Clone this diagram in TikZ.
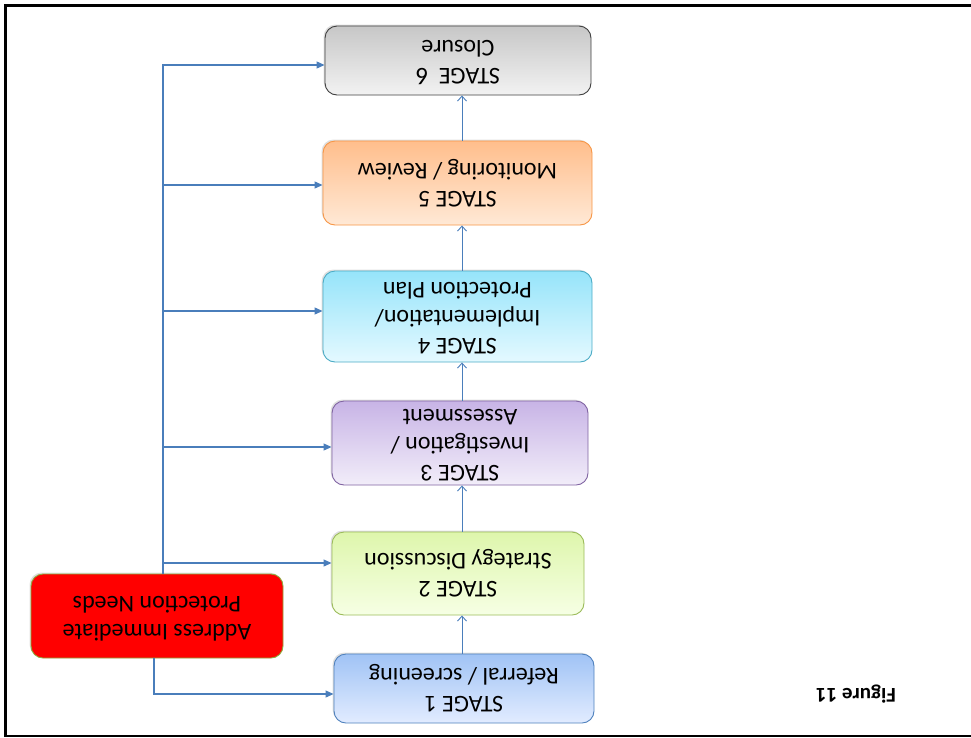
\documentclass[tikz,border=0pt]{standalone}
\usepackage{fontspec}
\setmainfont{Carlito}
\usepackage{xcolor}
\usepackage{tikz}
\usetikzlibrary{arrows.meta, shadows}

\definecolor{linkblue}{RGB}{74,126,187}
\definecolor{alarmred}{RGB}{255,0,0}
\definecolor{alarmedge}{RGB}{140,170,60}

% text set upside down, one row per line
\newcommand{\flip}[1]{\rotatebox[origin=c]{180}{\begin{tabular}{@{}c@{}}#1\end{tabular}}}

\begin{document}
\begin{tikzpicture}[x=1pt, y=-1pt,
        base/.style={
            draw, rounded corners=12pt, inner sep=0pt, line width=0.9pt,
            font=\fontsize{24}{28}\selectfont,
            drop shadow={shadow xshift=-1.5pt, shadow yshift=1.5pt, opacity=0.25}
        },
        grey/.style={base, draw=black!75, top color=black!22, bottom color=black!5},
        orange/.style={base, draw={rgb,255:red,247;green,150;blue,70},
            top color={rgb,255:red,255;green,190;blue,140},
            bottom color={rgb,255:red,255;green,233;blue,214}},
        cyan/.style={base, draw={rgb,255:red,75;green,172;blue,198},
            top color={rgb,255:red,150;green,228;blue,250},
            bottom color={rgb,255:red,228;green,249;blue,255}},
        purple/.style={base, draw={rgb,255:red,128;green,100;blue,162},
            top color={rgb,255:red,200;green,180;blue,230},
            bottom color={rgb,255:red,242;green,237;blue,249}},
        green/.style={base, draw={rgb,255:red,155;green,187;blue,89},
            top color={rgb,255:red,222;green,246;blue,172},
            bottom color={rgb,255:red,246;green,255;blue,228}},
        blue/.style={base, draw={rgb,255:red,79;green,129;blue,189},
            top color={rgb,255:red,160;green,195;blue,245},
            bottom color={rgb,255:red,226;green,236;blue,255}},
        alarm/.style={base, draw=alarmedge, fill=alarmred},
        climb/.style={draw=linkblue, line width=0.9pt, -{Straight Barb[length=5pt,width=9pt]}},
        feed/.style={draw=linkblue, line width=1.1pt, -{Triangle[length=8pt,width=7pt]}}
    ]

        \useasboundingbox (0,0) rectangle (971,737);

        % Frame
        \draw[line width=3pt] (971,5.5) -- (5.5,5.5) -- (5.5,737);
        \draw[line width=2pt] (4,736) -- (971,736);

        % Stages
        \node[grey, minimum width=266pt, minimum height=69pt] (s6) at (458,60.5)
            {\flip{STAGE\ \ 6\\Closure}};
        \node[orange, minimum width=269pt, minimum height=84pt] (s5) at (457.5,183)
            {\flip{STAGE 5\\Monitoring / Review}};
        \node[cyan, minimum width=269pt, minimum height=91pt] (s4) at (457.5,316.5)
            {\flip{STAGE 4\\Implementation/\\Protection Plan}};
        \node[purple, minimum width=256pt, minimum height=84pt] (s3) at (460,443)
            {\flip{STAGE 3\\Investigation /\\Assessment}};
        \node[green, minimum width=252pt, minimum height=83pt] (s2) at (458,573.5)
            {\flip{STAGE 2\\Strategy Discussion}};
        \node[blue, minimum width=260pt, minimum height=69pt] (s1) at (464,688.5)
            {\flip{STAGE 1\\Referral / screening}};

        \node[alarm, minimum width=252pt, minimum height=84pt] (needs) at (157,616)
            {\flip{Address Immediate\\Protection Needs}};

        \node[font=\bfseries\fontsize{21}{25}\selectfont] (fig) at (856,693)
            {\flip{Figure 11}};

        % Arrows
        \coordinate (spine) at (462,0);
        \coordinate (bus) at (163,0);

        \draw[climb] (spine |- s1.north) -- (spine |- s2.south);
        \draw[climb] (spine |- s2.north) -- (spine |- s3.south);
        \draw[climb] (spine |- s3.north) -- (spine |- s4.south);
        \draw[climb] (spine |- s4.north) -- (spine |- s5.south);
        \draw[climb] (spine |- s5.north) -- (spine |- s6.south);

        % entry points on the left sides
        \coordinate (in6) at ([yshift=-4.5pt]s6.west);
        \coordinate (in5) at ([yshift=-2pt]s5.west);
        \coordinate (in4) at ([yshift=5.5pt]s4.west);
        \coordinate (in3) at ([yshift=-4pt]s3.west);
        \coordinate (in2) at ([yshift=10.5pt]s2.west);
        \coordinate (in1) at ([yshift=-5.5pt]s1.west);

        \draw[feed] (bus |- needs.north) |- (in6);
        \draw[feed] (bus |- in5) -- (in5);
        \draw[feed] (bus |- in4) -- (in4);
        \draw[feed] (bus |- in3) -- (in3);
        \draw[feed] (bus |- in2) -- (in2);
        \draw[feed] ([xshift=-3pt]needs.south) |- (in1);

    \end{tikzpicture}
\end{document}
